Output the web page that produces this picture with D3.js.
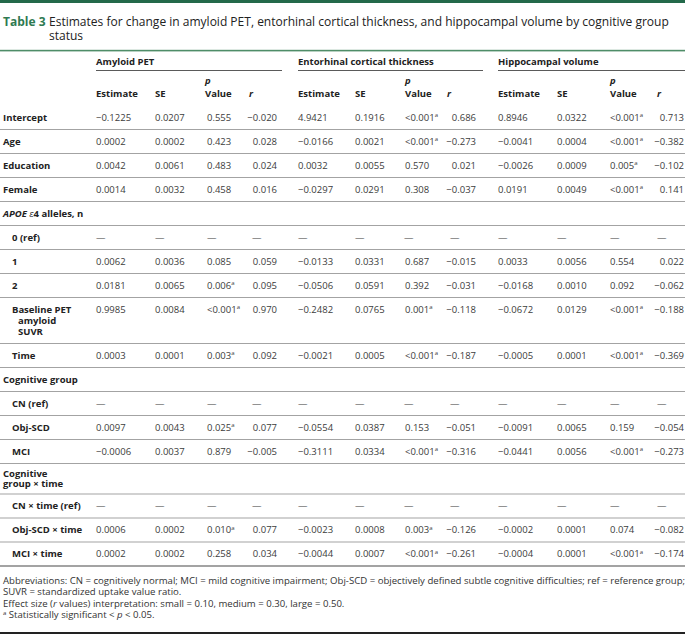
<!DOCTYPE html>
<html>
<head>
<meta charset="utf-8">
<script src="https://cdn.jsdelivr.net/npm/d3@7"></script>
<style>
  html, body { margin: 0; padding: 0; background: #fff; }
  svg { display: block; font-family: "Open Sans", "Noto Sans", sans-serif; }
</style>
</head>
<body>
<svg id="chart" width="685" height="635"></svg>
<script>
// ---------------- DATA ----------------
const tableNumber = "Table 3";
const titleText = ["Estimates for change in amyloid PET, entorhinal cortical thickness, and hippocampal volume by cognitive group", "status"];
const groupNames = ["Amyloid PET", "Entorhinal cortical thickness", "Hippocampal volume"];
const columnLabels = ["Estimate", "SE", "p Value", "r"];
const rowLabels = [
  "Intercept", "Age", "Education", "Female", "APOE ε4 alleles, n",
  "0 (ref)", "1", "2", "Baseline PET\namyloid\nSUVR", "Time",
  "Cognitive group", "CN (ref)", "Obj-SCD", "MCI",
  "Cognitive\ngroup × time", "CN × time (ref)", "Obj-SCD × time", "MCI × time"
];
const sectionRows = [4, 10, 14];
const indentedRows = [5, 6, 7, 8, 9, 11, 12, 13, 15, 16, 17];
const refRow = ["—", "—", "—", "—"];
const amyloidPET = [
  ["−0.1225", "0.0207", "0.555", "−0.020"],
  ["0.0002", "0.0002", "0.423", "0.028"],
  ["0.0042", "0.0061", "0.483", "0.024"],
  ["0.0014", "0.0032", "0.458", "0.016"],
  null,
  refRow,
  ["0.0062", "0.0036", "0.085", "0.059"],
  ["0.0181", "0.0065", "0.006a", "0.095"],
  ["0.9985", "0.0084", "<0.001a", "0.970"],
  ["0.0003", "0.0001", "0.003a", "0.092"],
  null,
  refRow,
  ["0.0097", "0.0043", "0.025a", "0.077"],
  ["−0.0006", "0.0037", "0.879", "−0.005"],
  null,
  refRow,
  ["0.0006", "0.0002", "0.010a", "0.077"],
  ["0.0002", "0.0002", "0.258", "0.034"]
];
const entorhinalThickness = [
  ["4.9421", "0.1916", "<0.001a", "0.686"],
  ["−0.0166", "0.0021", "<0.001a", "−0.273"],
  ["0.0032", "0.0055", "0.570", "0.021"],
  ["−0.0297", "0.0291", "0.308", "−0.037"],
  null,
  refRow,
  ["−0.0133", "0.0331", "0.687", "−0.015"],
  ["−0.0506", "0.0591", "0.392", "−0.031"],
  ["−0.2482", "0.0765", "0.001a", "−0.118"],
  ["−0.0021", "0.0005", "<0.001a", "−0.187"],
  null,
  refRow,
  ["−0.0554", "0.0387", "0.153", "−0.051"],
  ["−0.3111", "0.0334", "<0.001a", "−0.316"],
  null,
  refRow,
  ["−0.0023", "0.0008", "0.003a", "−0.126"],
  ["−0.0044", "0.0007", "<0.001a", "−0.261"]
];
const hippocampalVolume = [
  ["0.8946", "0.0322", "<0.001a", "0.713"],
  ["−0.0041", "0.0004", "<0.001a", "−0.382"],
  ["−0.0026", "0.0009", "0.005a", "−0.102"],
  ["0.0191", "0.0049", "<0.001a", "0.141"],
  null,
  refRow,
  ["0.0033", "0.0056", "0.554", "0.022"],
  ["−0.0168", "0.0010", "0.092", "−0.062"],
  ["−0.0672", "0.0129", "<0.001a", "−0.188"],
  ["−0.0005", "0.0001", "<0.001a", "−0.369"],
  null,
  refRow,
  ["−0.0091", "0.0065", "0.159", "−0.054"],
  ["−0.0441", "0.0056", "<0.001a", "−0.273"],
  null,
  refRow,
  ["−0.0002", "0.0001", "0.074", "−0.082"],
  ["−0.0004", "0.0001", "<0.001a", "−0.174"]
];
const footnotes = [
  "Abbreviations: CN = cognitively normal; MCI = mild cognitive impairment; Obj-SCD = objectively defined subtle cognitive difficulties; ref = reference group;",
  "SUVR = standardized uptake value ratio.",
  "Effect size (r values) interpretation: small = 0.10, medium = 0.30, large = 0.50.",
  "a Statistically significant < p < 0.05."
];

// ---------------- LAYOUT ----------------
const W = 685, H = 635;
const svg = d3.select("#chart");
const groups = [amyloidPET, entorhinalThickness, hippocampalVolume];

const groupX = d3.scaleOrdinal().domain(groupNames).range([96, 298, 498]);
const groupEnd = d3.scaleOrdinal().domain(groupNames).range([282, 483, 685]);
const colX = [
  d3.scaleOrdinal().domain(columnLabels).range([96, 155, 205, 249]),
  d3.scaleOrdinal().domain(columnLabels).range([298, 355, 405, 447]),
  d3.scaleOrdinal().domain(columnLabels).range([498, 557, 610, 657])
];
const pValueX = [207, 405, 610];
const rRight = [277, 476, 684];
const refDashX = [[96, 155, 207, 252], [298, 355, 404, 450], [498, 557, 610, 657]];

const bodyFont = 9.5;
const txtCol = "#3c3c3c";
const lblCol = "#222";
const ruleCol = "#a3a3a3";

const firstTop = 105.5;
const rows = rowLabels.map((lab, i) => {
  const lines = lab.split("\n");
  const section = sectionRows.includes(i);
  let h, off, lh;
  if (lines.length === 1) { h = 24; off = 12; lh = 11; }
  else if (section) { h = 30.5; off = 10; lh = 10.5; }
  else { h = 24 + (lines.length - 1) * 11; off = 12; lh = 11; }
  return { i, lab, lines, section, indent: indentedRows.includes(i), h, off, lh };
});
const tops = d3.cumsum([firstTop, ...rows.map(r => r.h)]);
rows.forEach((r, k) => { r.top = tops[k]; r.bottom = tops[k + 1]; r.y = r.top + r.off + 3.4; });

// ---------------- DRAW ----------------
svg.append("rect").attr("x", 0).attr("y", 0).attr("width", W).attr("height", 3).attr("fill", "#23694a");

// title as a single text block with tspans
const title = svg.append("text").attr("x", 3).attr("y", 25.5).attr("font-size", 12).attr("fill", "#222");
title.append("tspan").attr("font-weight", 700).attr("fill", "#2f7a52").text(tableNumber);
const titleMain = title.append("tspan").attr("x", 49).attr("y", 25.5).text(titleText[0]);
const measured = titleMain.node().getComputedTextLength();
const titleSize = Math.min(13, 12 * 621 / measured);
titleMain.attr("font-size", titleSize);
title.append("tspan").attr("x", 49).attr("y", 39.8).attr("font-size", titleSize).text(titleText[1]);

svg.append("rect").attr("x", 0).attr("y", 49.8).attr("width", W).attr("height", 1.6).attr("fill", "#4f8d68");

svg.selectAll("text.group").data(groupNames).join("text")
  .attr("class", "group")
  .attr("x", d => groupX(d)).attr("y", 65)
  .attr("font-size", bodyFont).attr("font-weight", 700).attr("fill", lblCol)
  .text(d => d);
svg.selectAll("line.gline").data(groupNames).join("line")
  .attr("class", "gline")
  .attr("x1", d => groupX(d)).attr("x2", d => groupEnd(d))
  .attr("y1", 70.5).attr("y2", 70.5)
  .attr("stroke", "#5a5a5a").attr("stroke-width", 1.1);

groups.forEach((g, gi) => {
  columnLabels.forEach(c => {
    const x = colX[gi](c);
    if (c === "p Value") {
      const t = svg.append("text").attr("x", x).attr("y", 83.5).attr("font-size", bodyFont)
        .attr("font-weight", 700).attr("fill", lblCol);
      t.append("tspan").attr("font-style", "italic").text("p");
      t.append("tspan").attr("x", x).attr("y", 96.8).text("Value");
    } else {
      svg.append("text").attr("x", x).attr("y", 96.8).attr("font-size", bodyFont)
        .attr("font-weight", 700).attr("font-style", c === "r" ? "italic" : "normal")
        .attr("fill", lblCol).text(c);
    }
  });
});

svg.selectAll("line.rule").data(rows).join("line")
  .attr("class", "rule")
  .attr("x1", 0).attr("x2", W)
  .attr("y1", d => d.bottom).attr("y2", d => d.bottom)
  .attr("stroke", ruleCol)
  .attr("stroke-width", (d, k) => k === rows.length - 1 ? 2.2 : 1.2);

// row labels (multi-line labels as one text block)
rows.forEach(r => {
  const baseX = r.indent ? 12 : 3;
  const tx = svg.append("text")
    .attr("x", baseX).attr("y", r.y)
    .attr("font-size", bodyFont).attr("font-weight", 700).attr("fill", lblCol);
  r.lines.forEach((ln, li) => {
    const x = li === 0 ? baseX : (r.indent ? 18 : baseX);
    const y = r.y + li * r.lh;
    if (ln.startsWith("APOE")) {
      tx.append("tspan").attr("x", x).attr("y", y).attr("font-style", "italic").text("APOE");
      tx.append("tspan").attr("font-style", "italic").attr("font-weight", 400).text(" ε");
      tx.append("tspan").text("4 alleles, n");
    } else {
      tx.append("tspan").attr("x", x).attr("y", y).text(ln);
    }
  });
});

function addValue(x, y, v, anchor) {
  const sup = v.endsWith("a");
  const core = sup ? v.slice(0, -1) : v;
  const tx = svg.append("text").attr("x", x).attr("y", y)
    .attr("font-size", bodyFont).attr("fill", txtCol).attr("text-anchor", anchor);
  tx.append("tspan").text(core);
  if (sup) tx.append("tspan").attr("font-size", 6).attr("dy", -3.5).text("a");
}
groups.forEach((g, gi) => {
  g.forEach((vals, ri) => {
    if (!vals) return;
    const y = rows[ri].y;
    vals.forEach((v, ci) => {
      const c = columnLabels[ci];
      if (v === "—") {
        svg.append("text").attr("x", refDashX[gi][ci]).attr("y", y)
          .attr("font-size", bodyFont).attr("fill", txtCol).text(v);
        return;
      }
      if (c === "r") addValue(rRight[gi], y, v, "end");
      else if (c === "p Value") addValue(pValueX[gi], y, v, "start");
      else addValue(colX[gi](c), y, v, "start");
    });
  });
});

const fnFont = 9.6;
const fnY = [583.5, 595.2, 606.8, 618.2];
footnotes.forEach((f, k) => {
  const tx = svg.append("text").attr("x", 3).attr("y", fnY[k])
    .attr("font-size", fnFont).attr("fill", "#333");
  if (k === 2) {
    tx.append("tspan").text("Effect size (");
    tx.append("tspan").attr("font-style", "italic").text("r");
    tx.append("tspan").text(f.slice(f.indexOf(" values")));
  } else if (k === 3) {
    tx.append("tspan").attr("font-size", 6).attr("dy", -3.5).text("a");
    tx.append("tspan").attr("dy", 3.5).text(" Statistically significant < ");
    tx.append("tspan").attr("font-style", "italic").text("p");
    tx.append("tspan").text(" < 0.05.");
  } else {
    tx.text(f);
  }
});

svg.append("rect").attr("x", 0).attr("y", 632).attr("width", W).attr("height", 2).attr("fill", "#222");
</script>
</body>
</html>
